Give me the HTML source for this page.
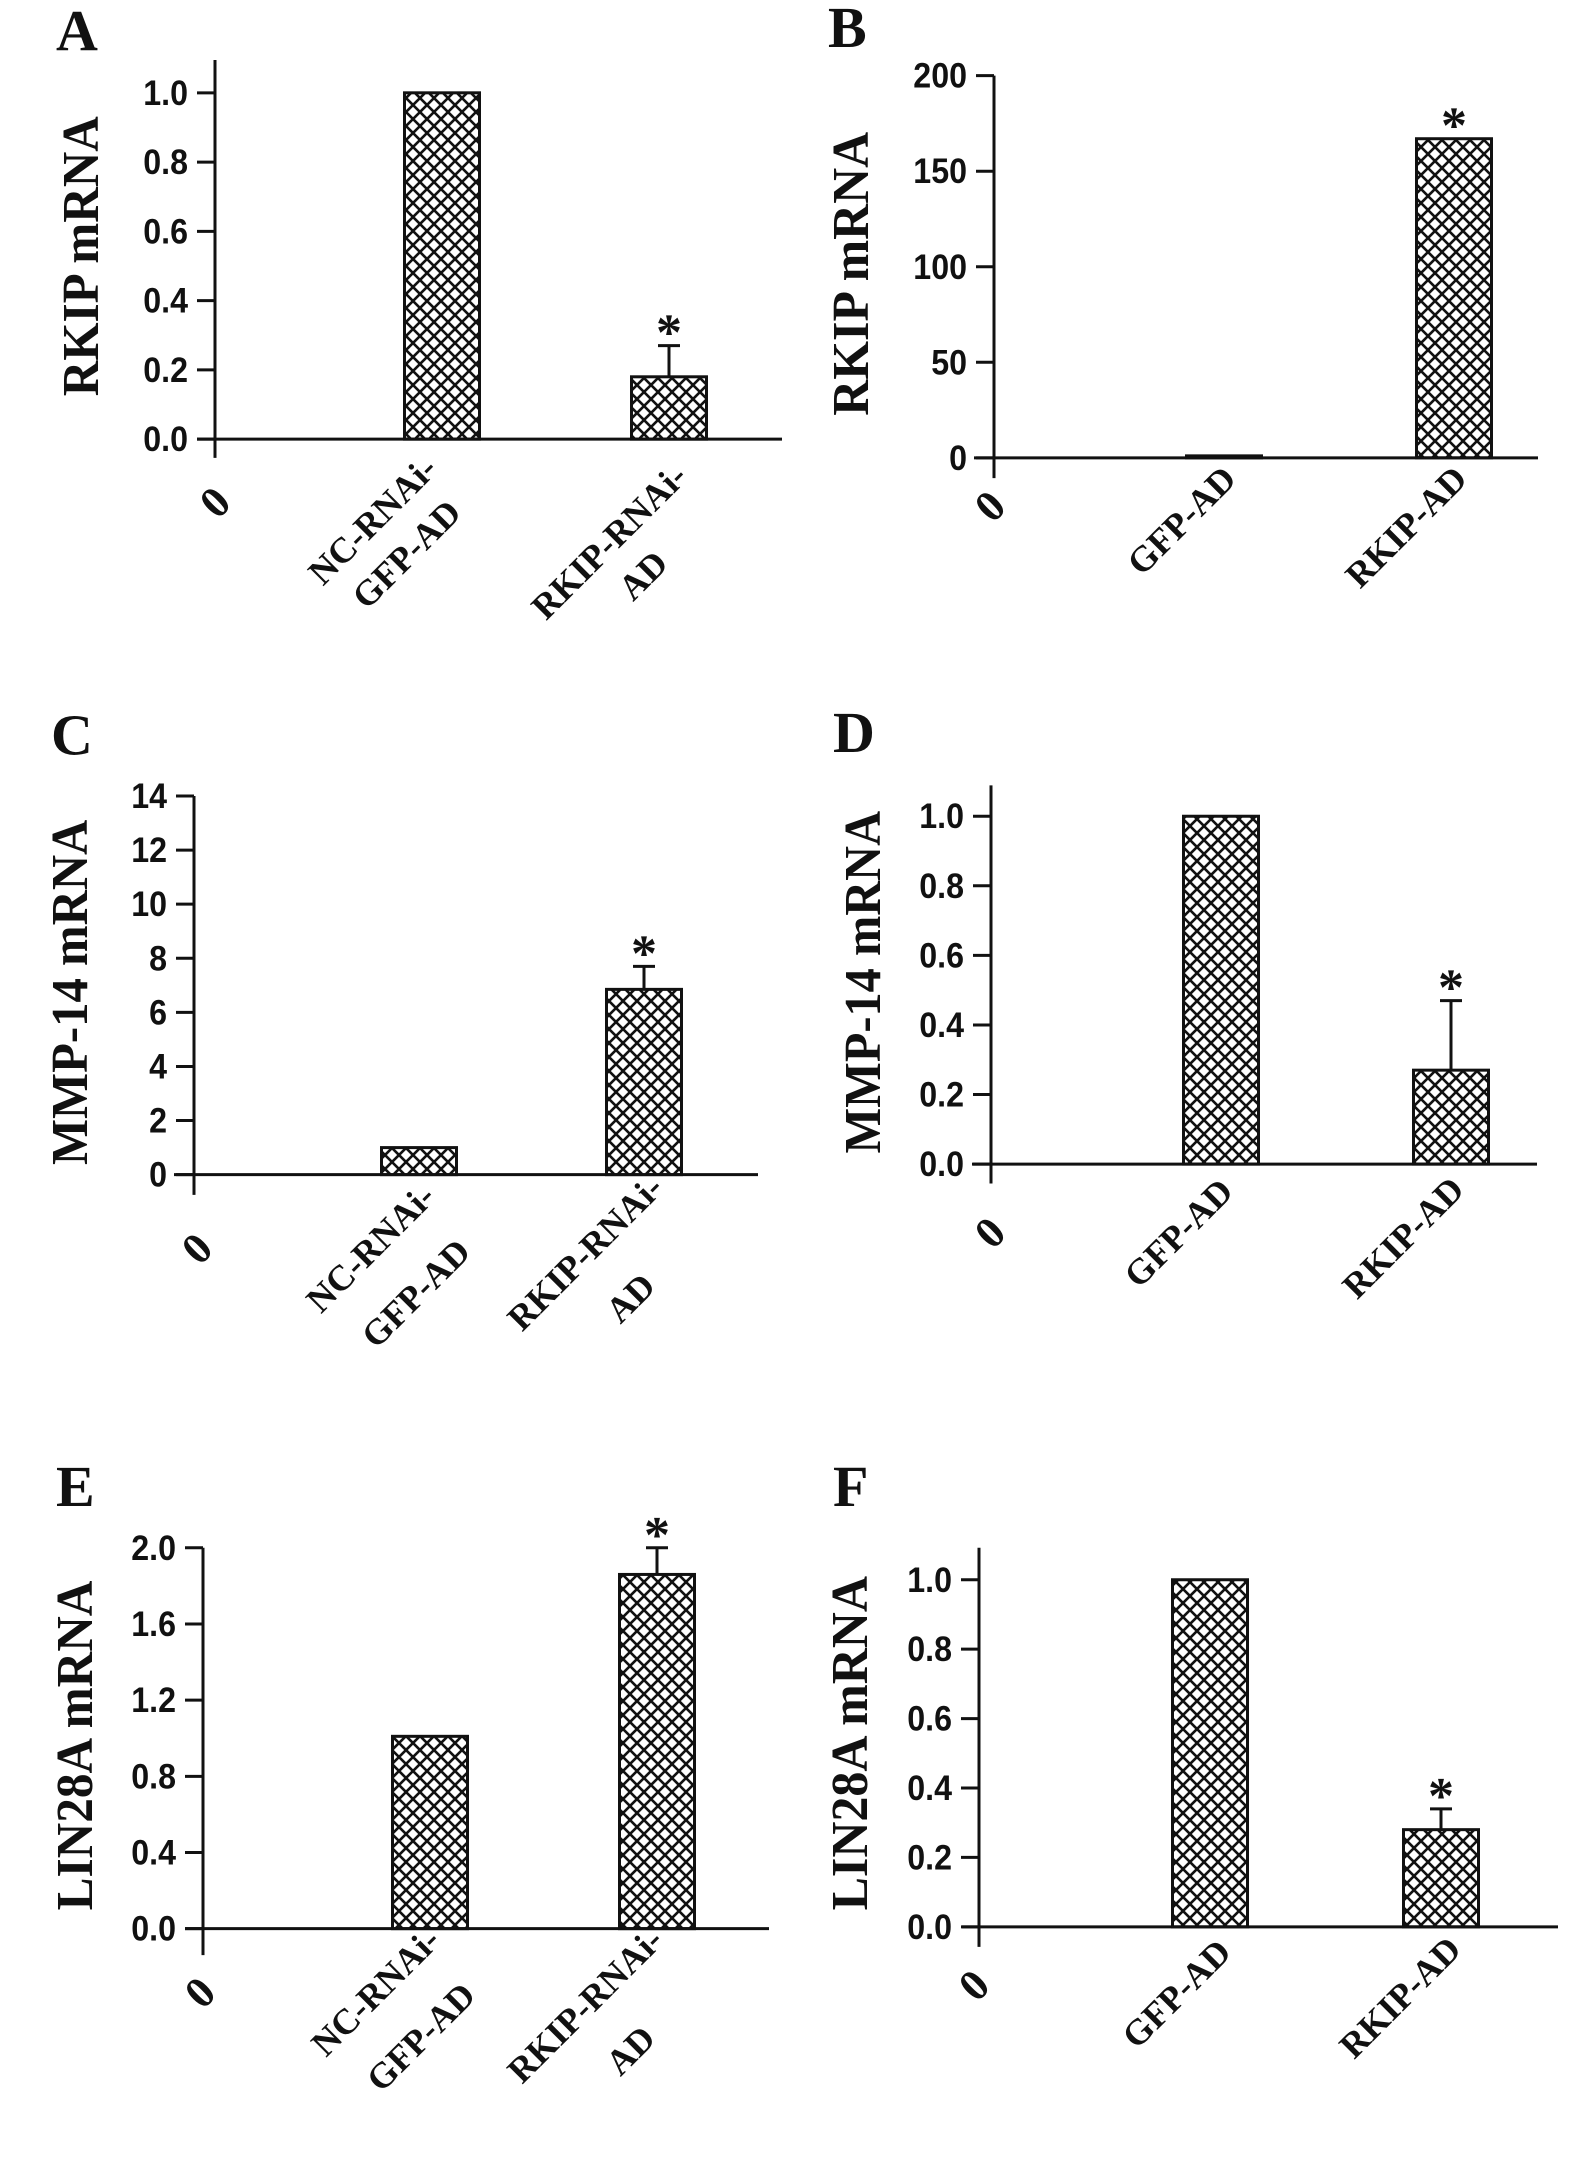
<!DOCTYPE html>
<html><head><meta charset="utf-8"><style>
html,body{margin:0;padding:0;background:#fff;}
svg{display:block;}
</style></head>
<body>
<svg id="fig" xmlns="http://www.w3.org/2000/svg" width="1583" height="2166" viewBox="0 0 1583 2166">
<defs>
<pattern id="hatch" patternUnits="userSpaceOnUse" width="14" height="14">
<rect width="14" height="14" fill="#fff"/>
<path d="M0,0 L14,14 M14,0 L0,14 M-7,7 L7,21 M7,-7 L21,7 M-7,7 L7,-7 M7,21 L21,7" stroke="#111" stroke-width="2.6"/>
</pattern>
</defs>
</svg>
<script>
// ---- data ----
const catsA = [["NC-RNAi-","GFP-AD"],["RKIP-RNAi-","AD"]];
const valsA = [1.0, 0.18];
const errsA = [0, 0.09];
const sigA = [false, true];
const ticksA = ["0.0","0.2","0.4","0.6","0.8","1.0"];
const tickValsA = [0,0.2,0.4,0.6,0.8,1.0];

const catsB = [["GFP-AD"],["RKIP-AD"]];
const valsB = [1, 167];
const errsB = [0, 0];
const sigB = [false, true];
const ticksB = ["0","50","100","150","200"];
const tickValsB = [0,50,100,150,200];

const catsC = [["NC-RNAi-","GFP-AD"],["RKIP-RNAi-","AD"]];
const valsC = [1.0, 6.85];
const errsC = [0, 0.85];
const sigC = [false, true];
const ticksC = ["0","2","4","6","8","10","12","14"];
const tickValsC = [0,2,4,6,8,10,12,14];

const catsD = [["GFP-AD"],["RKIP-AD"]];
const valsD = [1.0, 0.27];
const errsD = [0, 0.2];
const sigD = [false, true];
const ticksD = ["0.0","0.2","0.4","0.6","0.8","1.0"];
const tickValsD = [0,0.2,0.4,0.6,0.8,1.0];

const catsE = [["NC-RNAi-","GFP-AD"],["RKIP-RNAi-","AD"]];
const valsE = [1.01, 1.86];
const errsE = [0, 0.14];
const sigE = [false, true];
const ticksE = ["0.0","0.4","0.8","1.2","1.6","2.0"];
const tickValsE = [0,0.4,0.8,1.2,1.6,2.0];

const catsF = [["GFP-AD"],["RKIP-AD"]];
const valsF = [1.0, 0.28];
const errsF = [0, 0.06];
const sigF = [false, true];
const ticksF = ["0.0","0.2","0.4","0.6","0.8","1.0"];
const tickValsF = [0,0.2,0.4,0.6,0.8,1.0];

const NS = "http://www.w3.org/2000/svg";
const svg = document.getElementById('fig');
function mk(tag, attrs, parent){
  const e = document.createElementNS(NS, tag);
  for (const k in attrs) e.setAttribute(k, attrs[k]);
  (parent||svg).appendChild(e);
  return e;
}
// vertical calibration per row
const r1 = y => y * 0.78;
const r2 = y => 700 + (y - 700) * 0.8806;
const r3 = y => 1440 + (y - 1440) * 0.9134;

const panels = [
 {id:"a", R:r1, letter:"A", lx:56, ly:64, title:"RKIP mRNA", tx:80, ty1:149, ty2:508,
  x0:215, top:77, bottom:587, zero:563, maxPx:119, maxV:1.0, xs:197, xe:782, step:227,
  cats:catsA, vals:valsA, errs:errsA, sig:sigA, ticks:ticksA, tv:tickValsA,
  zeroLbl:[215,644], ends:[[430,592],[680,602]], sp:48},
 {id:"b", R:r1, letter:"B", lx:828, ly:60, title:"RKIP mRNA", tx:850, ty1:169, ty2:533,
  x0:994, top:97, bottom:613, zero:587, maxPx:97, maxV:200, xs:974, xe:1538, step:230,
  cats:catsB, vals:valsB, errs:errsB, sig:sigB, ticks:ticksB, tv:tickValsB,
  zeroLbl:[990,649], ends:[[1229,605],[1460,605]], sp:50},
 {id:"c", R:r2, letter:"C", lx:51, ly:762, title:"MMP-14 mRNA", tx:69, ty1:836, ty2:1228,
  x0:194, top:809, bottom:1262, zero:1239, maxPx:809, maxV:14, xs:174, xe:758, step:225,
  cats:catsC, vals:valsC, errs:errsC, sig:sigC, ticks:ticksC, tv:tickValsC,
  zeroLbl:[197,1323], ends:[[428,1256],[656,1246]], sp:64},
 {id:"d", R:r2, letter:"D", lx:833, ly:759, title:"MMP-14 mRNA", tx:862, ty1:826, ty2:1215,
  x0:991, top:797, bottom:1249, zero:1227, maxPx:832, maxV:1.0, xs:972, xe:1537, step:230,
  cats:catsD, vals:valsD, errs:errsD, sig:sigD, ticks:ticksD, tv:tickValsD,
  zeroLbl:[990,1305], ends:[[1226,1250],[1457,1248]], sp:50},
 {id:"e", R:r3, letter:"E", lx:56, ly:1512, title:"LIN28A mRNA", tx:74, ty1:1594, ty2:1955,
  x0:203, top:1558, bottom:2004, zero:1975, maxPx:1558, maxV:2.0, xs:185, xe:769, step:227,
  cats:catsE, vals:valsE, errs:errsE, sig:sigE, ticks:ticksE, tv:tickValsE,
  zeroLbl:[200,2045], ends:[[433,1980],[656,1980]], sp:64},
 {id:"f", R:r3, letter:"F", lx:833, ly:1512, title:"LIN28A mRNA", tx:849, ty1:1589, ty2:1955,
  x0:979, top:1558, bottom:1995, zero:1973, maxPx:1593, maxV:1.0, xs:962, xe:1558, step:231,
  cats:catsF, vals:valsF, errs:errsF, sig:sigF, ticks:ticksF, tv:tickValsF,
  zeroLbl:[974,2037], ends:[[1224,1993],[1454,1990]], sp:50}
];

const serif = '"Liberation Serif", serif';
const sans = '"Liberation Sans", sans-serif';

panels.forEach(p => {
  const R = p.R;
  const zero = R(p.zero), maxPx = R(p.maxPx);
  const g = mk('g', {});
  
  
  const y = v => zero - v * (zero - maxPx) / p.maxV;

  const lt = mk('text', {x:p.lx, y:R(p.ly), 'font-family':serif, 'font-weight':'bold', 'font-size':58, fill:'#111'}, g);
  lt.textContent = p.letter;
  
  

  const t1y = R(p.ty1), t2y = R(p.ty2);
  const tcy = (t1y + t2y) / 2;
  const tt = mk('text', {x:0, y:0, transform:`translate(${p.tx+18},${tcy}) rotate(-90)`, 'text-anchor':'middle',
    'font-family':serif, 'font-weight':'bold', 'font-size':52, fill:'#111',
    textLength:(t2y - t1y), lengthAdjust:'spacingAndGlyphs'}, g);
  tt.textContent = p.title;
  
  

  const ya = mk('line', {x1:p.x0, y1:R(p.top), x2:p.x0, y2:R(p.bottom), stroke:'#111', 'stroke-width':3}, g);
  
  

  p.tv.forEach((v, i) => {
    const ty = y(v);
    const tk = mk('line', {x1:p.x0 - 18, y1:ty, x2:p.x0, y2:ty, stroke:'#111', 'stroke-width':3}, g);
    
    
    const tl = mk('text', {x:0, y:0, transform:`translate(${p.x0 - 27},${ty + 12}) scale(0.92,1)`, 'text-anchor':'end',
      'font-family':sans, 'font-weight':'bold', 'font-size':35, fill:'#111'}, g);
    tl.textContent = p.ticks[i];
    
    
  });

  p.vals.forEach((v, i) => {
    const cx = p.x0 + (i + 1) * p.step;
    const bw = 75;
    const top = y(v);
    const h = Math.max(zero - top, 2);
    const b = mk('rect', {x:cx - bw/2, y:zero - h, width:bw, height:h, fill:'url(#hatch)', stroke:'#111', 'stroke-width':3}, g);
    
    
    let starBase = top;
    if (p.errs[i] > 0) {
      const et = y(v + p.errs[i]);
      const el = mk('path', {d:`M${cx},${top} L${cx},${et} M${cx-11},${et} L${cx+11},${et}`, stroke:'#111', 'stroke-width':3, fill:'none'}, g);
      
      
      starBase = et;
    }
    if (p.sig[i]) {
      const st = mk('text', {x:cx, y:starBase + 4, 'text-anchor':'middle', 'font-family':serif, 'font-weight':'bold', 'font-size':52, fill:'#111'}, g);
      st.textContent = '*';
      
      
    }
    const lines = p.cats[i];
    const e = p.ends[i];
    const bx = e[0] + 9, by = R(e[1]) + 9;
    const lg = mk('g', {}, g);
    
    
    const t1 = mk('text', {x:0, y:0, transform:`translate(${bx},${by}) rotate(-45)`, 'text-anchor':'end',
      'font-family':serif, 'font-weight':'bold', 'font-size':36, fill:'#111'}, lg);
    t1.textContent = lines[0];
    if (lines.length > 1) {
      const w1 = t1.getComputedTextLength();
      const c1x = bx - (w1/2) * 0.7071, c1y = by + (w1/2) * 0.7071;
      const c2x = c1x + p.sp * 0.7071, c2y = c1y + p.sp * 0.7071;
      const t2 = mk('text', {x:0, y:0, transform:`translate(${c2x},${c2y}) rotate(-45)`, 'text-anchor':'middle',
        'font-family':serif, 'font-weight':'bold', 'font-size':36, fill:'#111'}, lg);
      t2.textContent = lines[1];
    }
  });

  const xa = mk('line', {x1:p.xs, y1:zero, x2:p.xe, y2:zero, stroke:'#111', 'stroke-width':3}, g);
  
  

  const z = mk('text', {x:0, y:0, transform:`translate(${p.zeroLbl[0]},${R(p.zeroLbl[1])}) rotate(-45)`, 'text-anchor':'middle',
    'dominant-baseline':'central', 'font-family':serif, 'font-weight':'bold', 'font-size':44, fill:'#111'}, g);
  z.textContent = '0';
  
  
});
</script>
</body></html>
